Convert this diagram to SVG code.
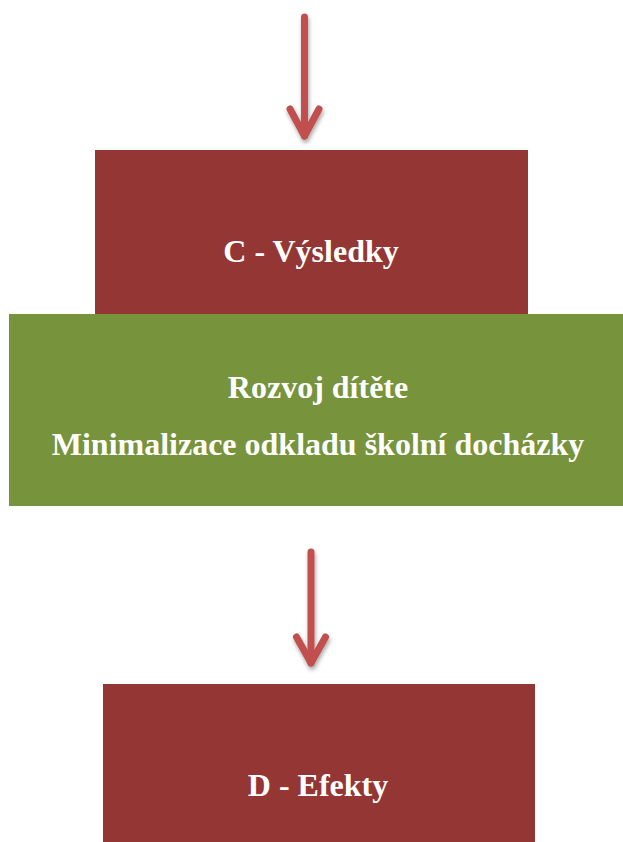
<svg xmlns="http://www.w3.org/2000/svg" width="623" height="842" viewBox="0 0 623 842">
<style>
.red{fill:#943634}
.green{fill:#77933c}
.t{font-family:"Liberation Serif","Times New Roman",serif;font-weight:bold;fill:#ffffff;text-anchor:middle;font-size:32px}
.arr{stroke:#c0504d;stroke-width:7;fill:none;stroke-linecap:round;stroke-linejoin:round}
</style>
<defs>
<filter id="sh" x="-50%" y="-50%" width="200%" height="200%">
<feGaussianBlur in="SourceAlpha" stdDeviation="2"/>
<feOffset dx="1" dy="3" result="b"/>
<feComponentTransfer><feFuncA type="linear" slope="0.35"/></feComponentTransfer>
<feMerge><feMergeNode/><feMergeNode in="SourceGraphic"/></feMerge>
</filter>
</defs>
<g id="connectors">
<g filter="url(#sh)">
<path class="arr" d="M304.5 17 V136" stroke-linecap="butt"/>
<path class="arr" d="M290 109 L304.5 136 L319 109"/>
</g>
<g filter="url(#sh)">
<path class="arr" d="M311 552 V663" stroke-linecap="butt"/>
<path class="arr" d="M296.5 637 L311 663 L325.5 637"/>
</g>
</g>
<g id="nodeC">
<rect class="red" x="95" y="150" width="433" height="166"/>
<text class="t" x="311" y="262">C - Výsledky</text>
</g>
<g id="nodeGreen">
<rect class="green" x="9" y="314" width="614" height="192"/>
<text class="t" x="318" y="398">Rozvoj dítěte</text>
<text class="t" x="318" y="455">Minimalizace odkladu školní docházky</text>
</g>
<g id="nodeD">
<rect class="red" x="103" y="684" width="432" height="158"/>
<text class="t" x="318" y="796">D - Efekty</text>
</g>
</svg>
